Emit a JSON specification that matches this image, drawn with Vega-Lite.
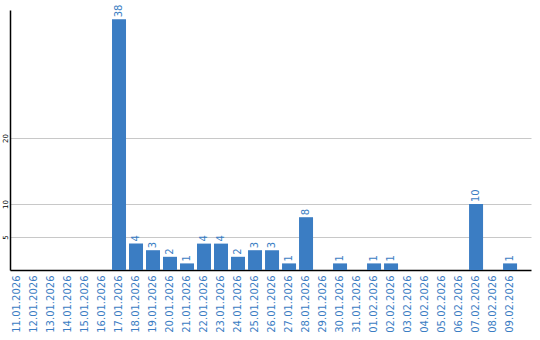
{
  "$schema": "https://vega.github.io/schema/vega-lite/v6.json",
  "width": 521,
  "height": 260,
  "autosize": "none",
  "padding": {"left": 10, "top": 10, "right": 9, "bottom": 70},
  "background": "white",
  "config": {"view": {"stroke": null}, "font": "DejaVu Sans"},
  "data": {"values": [
    {"d": "11.01.2026", "v": 0}, {"d": "12.01.2026", "v": 0}, {"d": "13.01.2026", "v": 0},
    {"d": "14.01.2026", "v": 0}, {"d": "15.01.2026", "v": 0}, {"d": "16.01.2026", "v": 0},
    {"d": "17.01.2026", "v": 38}, {"d": "18.01.2026", "v": 4}, {"d": "19.01.2026", "v": 3},
    {"d": "20.01.2026", "v": 2}, {"d": "21.01.2026", "v": 1}, {"d": "22.01.2026", "v": 4},
    {"d": "23.01.2026", "v": 4}, {"d": "24.01.2026", "v": 2}, {"d": "25.01.2026", "v": 3},
    {"d": "26.01.2026", "v": 3}, {"d": "27.01.2026", "v": 1}, {"d": "28.01.2026", "v": 8},
    {"d": "29.01.2026", "v": 0}, {"d": "30.01.2026", "v": 1}, {"d": "31.01.2026", "v": 0},
    {"d": "01.02.2026", "v": 1}, {"d": "02.02.2026", "v": 1}, {"d": "03.02.2026", "v": 0},
    {"d": "04.02.2026", "v": 0}, {"d": "05.02.2026", "v": 0}, {"d": "06.02.2026", "v": 0},
    {"d": "07.02.2026", "v": 10}, {"d": "08.02.2026", "v": 0}, {"d": "09.02.2026", "v": 1}
  ]},
  "encoding": {
    "x": {
      "field": "d", "type": "ordinal", "sort": null, "title": null,
      "scale": {"paddingInner": 0.1765, "paddingOuter": 0.41, "align": 0},
      "axis": {
        "labelAngle": -90, "labelAlign": "right", "labelBaseline": "middle",
        "labelColor": "#3b7dc3", "labelFontSize": 10, "labelPadding": 5,
        "ticks": false, "domainColor": "#000000", "domainWidth": 1.5,
        "grid": false
      }
    },
    "y": {
      "field": "v", "type": "quantitative", "title": null,
      "scale": {"domain": [0, 39.4], "nice": false, "zero": true},
      "axis": {
        "values": [5, 10, 20], "labelAngle": -90, "labelAlign": "center",
        "labelBaseline": "bottom", "labelFontSize": 7, "labelColor": "#000000",
        "labelPadding": 2, "ticks": false, "domainColor": "#000000", "domainWidth": 1.5,
        "grid": true, "gridColor": "#c8c8c8", "gridWidth": 1
      }
    }
  },
  "layer": [
    {"mark": {"type": "bar", "color": "#3b7dc3"}},
    {
      "transform": [{"filter": "datum.v > 0"}],
      "mark": {"type": "text", "angle": 270, "align": "left", "baseline": "middle", "dx": 2, "fontSize": 10, "color": "#3b7dc3"},
      "encoding": {"text": {"field": "v", "type": "quantitative"}}
    }
  ]
}
